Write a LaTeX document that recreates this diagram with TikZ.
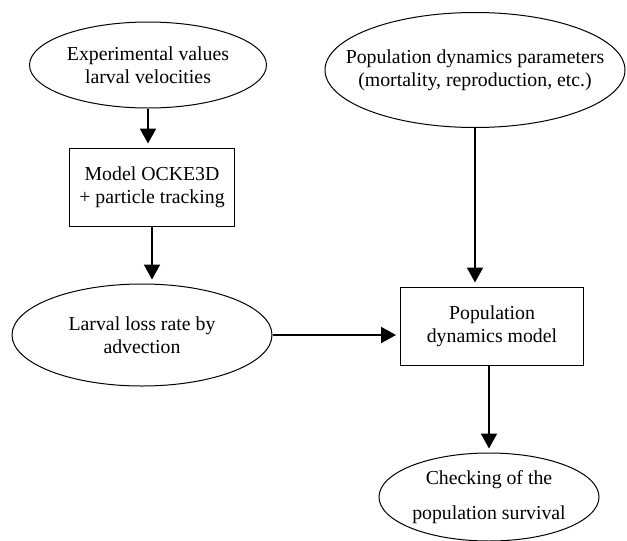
\documentclass[tikz,border=0pt]{standalone}
\usepackage{fontspec}
\setmainfont{Liberation Serif}
\usetikzlibrary{
        arrows.meta,
        positioning,
        shapes.geometric
    }
\tikzset{>={Triangle[length=7.5pt,width=8pt]},shorten >=2pt,auto,node distance=2cm}
\tikzset{elliptic input/.style={draw,ellipse,line width=0.5pt,inner sep=0pt,align=center}}
\tikzset{model box/.style={draw,rectangle,line width=0.5pt,inner sep=0pt,align=center}}

\begin{document}
\begin{tikzpicture}[font=\fontsize{9.9}{11.5}\selectfont]
            \useasboundingbox (0,0) rectangle (313.5pt,-270.5pt);
            \node[elliptic input][minimum width=118.5pt,minimum height=43pt] (e) at (74pt,-32.5pt) {Experimental values\\larval velocities};
            \node[model box][minimum width=82.5pt,minimum height=39pt] (m) [below=19.5pt of e,xshift=2pt] {Model OCKE3D\\+ particle tracking};
            \node[elliptic input][minimum width=130pt,minimum height=51pt] (l) [below=28.5pt of m,xshift=-5pt] {Larval loss rate by\\advection};
            \node[elliptic input][minimum width=150pt,minimum height=57.5pt,inner xsep=-12pt] (p) at (237.5pt,-35pt) {Population dynamics parameters\\(mortality, reproduction, etc.)};
            \node[model box][minimum width=91.5pt,minimum height=39pt] (d) [right=63.75pt of l,yshift=4.5pt] {Population\\dynamics model};
            \node[elliptic input][minimum width=110pt,minimum height=44pt] (c) [below=43.5pt of d,xshift=-1.5pt] {Checking of the\\[6pt]population survival};
            \path[->,line width=1pt]
                (e.south) edge (e.south |- m.north)
                (m.south) edge (m.south |- l.north)
                (l.east)  edge (l.east -| d.west)
                (p.south) edge (p.south |- d.north)
                (c.north |- d.south) edge (c.north)
            ;
        \end{tikzpicture}
\end{document}
